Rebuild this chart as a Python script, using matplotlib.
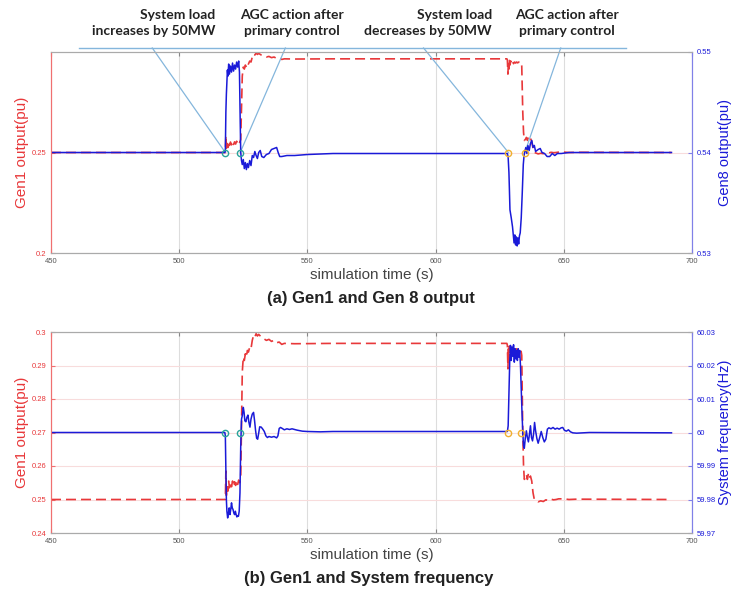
import matplotlib
matplotlib.use("Agg")
import matplotlib.pyplot as plt

plt.rcParams["font.family"] = ["Liberation Sans", "DejaVu Sans"]

# Gen1 active power output (pu)
t_gen1 = [450, 518.0, 518.2, 518.4, 518.7, 519.0, 519.3, 519.6, 520.0, 520.4, 520.8,
          521.2, 521.6, 522.0, 522.4, 522.8, 523.2, 523.6, 524.0, 524.3, 524.6,
          525.0, 525.4, 525.8, 526.2, 526.6, 527.0, 527.5, 528.0, 528.5, 529.0,
          529.5, 530.0, 530.5, 531.0, 532.0, 533.0, 534.0, 535.0, 536.0, 537.0,
          538.0, 539.0, 540.0, 541.0, 545.0, 560.0, 600.0, 627.8, 628.0, 628.2,
          628.4, 628.6, 628.8, 629.0, 629.3, 629.6, 630.0, 630.4, 630.8, 631.2,
          631.6, 632.0, 632.4, 632.8, 633.2, 633.6, 634.0, 634.3, 634.6, 635.0,
          635.4, 635.8, 636.2, 636.6, 637.0, 637.5, 638.0, 638.5, 639.0, 640.0,
          641.0, 642.0, 643.0, 644.0, 645.0, 646.0, 647.0, 648.0, 650.0, 652.0,
          655.0, 692.0]
gen1 = [0.2500, 0.2500, 0.2585, 0.2512, 0.2545, 0.2525, 0.2555, 0.2535, 0.2552, 0.2538, 0.2555,
        0.2540, 0.2553, 0.2542, 0.2556, 0.2545, 0.2558, 0.2550, 0.2565, 0.2720, 0.2880,
        0.2925, 0.2915, 0.2935, 0.2925, 0.2945, 0.2940, 0.2955, 0.2950, 0.2975, 0.2990,
        0.2985, 0.2995, 0.2988, 0.2993, 0.2985, 0.2980, 0.2975, 0.2978, 0.2972, 0.2975,
        0.2968, 0.2970, 0.2963, 0.2966, 0.2965, 0.2966, 0.2966, 0.2966, 0.2960, 0.2890,
        0.2950, 0.2915, 0.2958, 0.2935, 0.2955, 0.2940, 0.2952, 0.2942, 0.2950, 0.2945,
        0.2950, 0.2946, 0.2950, 0.2947, 0.2950, 0.2930, 0.2700, 0.2600, 0.2560, 0.2565,
        0.2575, 0.2560, 0.2578, 0.2565, 0.2570, 0.2555, 0.2520, 0.2500, 0.2498, 0.2493,
        0.2496, 0.2494, 0.2499, 0.2497, 0.2501, 0.2499, 0.2500, 0.2502, 0.2502, 0.2500,
        0.2501, 0.2500]

# Gen8 active power output (pu)
t_gen8 = [450, 517.8, 518.0, 518.2, 518.4, 518.6, 518.8, 519.0, 519.3, 519.6, 520.0,
          520.4, 520.8, 521.2, 521.6, 522.0, 522.4, 522.8, 523.2, 523.5, 523.8,
          524.0, 524.3, 524.6, 525.0, 525.4, 525.8, 526.2, 526.6, 527.0, 527.5,
          528.0, 528.5, 529.0, 529.5, 530.0, 530.5, 531.0, 531.6, 532.2, 533.0,
          534.0, 535.0, 536.0, 537.0, 538.0, 538.6, 539.2, 540.0, 542.0, 545.0,
          550.0, 560.0, 600.0, 628.0, 628.3, 628.6, 628.8, 629.0, 629.5, 630.0,
          630.3, 630.6, 630.9, 631.2, 631.5, 631.8, 632.1, 632.4, 632.7, 633.0,
          633.4, 633.8, 634.2, 634.5, 634.8, 635.2, 635.6, 636.0, 636.5, 637.0,
          637.5, 638.0, 638.5, 639.0, 640.0, 640.8, 641.5, 642.5, 643.5, 644.5,
          645.5, 646.5, 647.5, 649.0, 652.0, 692.0]
gen8 = [0.5400, 0.5400, 0.5402, 0.5440, 0.5458, 0.5470, 0.5482, 0.5476, 0.5488, 0.5478, 0.5486,
        0.5480, 0.5489, 0.5481, 0.5487, 0.5483, 0.5490, 0.5485, 0.5491, 0.5480, 0.5430,
        0.5400, 0.5392, 0.5388, 0.5393, 0.5384, 0.5390, 0.5383, 0.5389, 0.5385, 0.5392,
        0.5387, 0.5397, 0.5395, 0.5401, 0.5397, 0.5394, 0.5400, 0.5402, 0.5396, 0.5395,
        0.5398, 0.5399, 0.5403, 0.5404, 0.5405, 0.5400, 0.5396, 0.5396, 0.5397, 0.5397,
        0.5398, 0.5399, 0.5399, 0.5399, 0.5395, 0.5380, 0.5362, 0.5343, 0.5335, 0.5326,
        0.5318, 0.5310, 0.5318, 0.5308, 0.5316, 0.5307, 0.5315, 0.5309, 0.5317, 0.5320,
        0.5335, 0.5360, 0.5388, 0.5397, 0.5401, 0.5405, 0.5399, 0.5407, 0.5402, 0.5409,
        0.5412, 0.5405, 0.5407, 0.5401, 0.5403, 0.5404, 0.5400, 0.5399, 0.5396, 0.5396,
        0.5399, 0.5397, 0.5399, 0.5399, 0.5400, 0.5400]

# System frequency (Hz)
t_freq = [450, 517.8, 518.0, 518.2, 518.4, 518.6, 518.9, 519.2, 519.5, 519.8, 520.1,
          520.4, 520.7, 521.0, 521.3, 521.6, 521.9, 522.2, 522.5, 522.8, 523.1,
          523.4, 523.7, 524.0, 524.3, 524.6, 525.0, 525.3, 525.6, 526.0, 526.4,
          526.8, 527.2, 527.6, 528.0, 528.5, 529.0, 529.4, 529.8, 530.2, 530.6,
          531.0, 531.4, 532.0, 532.6, 533.2, 533.8, 534.4, 535.0, 536.0, 537.0,
          538.0, 538.5, 539.0, 539.5, 540.0, 541.0, 542.0, 543.0, 544.0, 546.0,
          548.0, 550.0, 555.0, 560.0, 600.0, 628.0, 628.3, 628.6, 628.9, 629.2,
          629.5, 629.8, 630.1, 630.4, 630.7, 631.0, 631.3, 631.6, 631.9, 632.2,
          632.5, 632.8, 633.1, 633.4, 633.7, 634.0, 634.3, 634.6, 635.0, 635.4,
          635.8, 636.2, 636.6, 637.0, 637.4, 637.8, 638.2, 638.6, 639.0, 639.5,
          640.0, 640.6, 641.2, 641.8, 642.4, 643.0, 643.6, 644.2, 645.0, 645.8,
          646.6, 647.4, 648.2, 649.0, 649.6, 650.2, 651.0, 651.8, 652.6, 653.5,
          655.0, 660.0, 692.0]
freq = [60.0000, 60.0000, 59.9990, 59.9890, 59.9800, 59.9765, 59.9745, 59.9760, 59.9775, 59.9755, 59.9770,
        59.9790, 59.9775, 59.9770, 59.9760, 59.9755, 59.9765, 59.9755, 59.9748, 59.9752, 59.9750,
        59.9765, 59.9820, 59.9960, 60.0040, 60.0050, 60.0075, 60.0060, 60.0035, 60.0032, 60.0045,
        60.0052, 60.0030, 60.0016, 60.0040, 60.0055, 60.0060, 60.0035, 60.0005, 59.9983, 59.9980,
        59.9998, 60.0017, 60.0016, 60.0010, 60.0003, 59.9990, 59.9985, 59.9988, 59.9986, 59.9988,
        59.9984, 59.9990, 60.0012, 60.0015, 60.0013, 60.0008, 60.0011, 60.0009, 60.0011, 60.0007,
        60.0004, 60.0003, 60.0002, 60.0003, 60.0003, 60.0003, 60.0020, 60.0115, 60.0210, 60.0260,
        60.0215, 60.0255, 60.0228, 60.0262, 60.0210, 60.0250, 60.0220, 60.0245, 60.0215, 60.0250,
        60.0225, 60.0245, 60.0200, 60.0130, 60.0060, 60.0000, 59.9960, 59.9953, 59.9985, 60.0005,
        59.9985, 59.9972, 59.9995, 60.0020, 59.9985, 59.9975, 59.9995, 60.0030, 60.0005, 59.9982,
        59.9968, 59.9985, 60.0003, 59.9985, 59.9972, 59.9980, 60.0010, 60.0014, 60.0011, 60.0015,
        60.0010, 60.0013, 60.0010, 60.0014, 60.0015, 60.0007, 60.0004, 60.0008, 60.0002, 59.9999,
        59.9998, 60.0000, 59.9999]

# event markers: load step and AGC action
events_a = [518.0, 523.8, 628.4, 634.8]
events_b = [518.0, 523.8, 628.4, 633.5]
event_colors = ["#2aa39a", "#2aa39a", "#f0b030", "#f0b030"]

# callout labels above panel (a): text, anchor x (pixels), alignment
callouts = ["System load\nincreases by 50MW", "AGC action after\nprimary control",
            "System load\ndecreases by 50MW", "AGC action after\nprimary control"]
callout_x = [215, 292, 492, 567]
callout_ha = ["right", "center", "right", "center"]
callout_tips = [489.5, 541.4, 595.3, 648.8]

RED = "#e8383a"
BLUE = "#1a1ad8"
LINE_BLUE = "#84b6dc"
GRAY = "#555555"
W, H = 733, 598


def style_axes(ax, axr, left_color, right_color):
    ax.set_xlim(450, 700)
    ax.set_xticks([450, 500, 550, 600, 650, 700])
    ax.grid(True, axis="x", color="#dddddd", lw=0.8)
    ax.grid(True, axis="y", color="#f8dcdc", lw=0.8)
    ax.tick_params(axis="x", direction="in", length=3, labelsize=5.5, colors="#888888", labelcolor=GRAY)
    ax.tick_params(axis="y", direction="in", length=3, labelsize=5.5, colors=left_color, labelcolor=RED)
    axr.tick_params(axis="y", direction="in", length=3, labelsize=5.5, colors=right_color, labelcolor=BLUE)
    ax.xaxis.set_ticks_position("both")
    for a in (ax, axr):
        a.spines["top"].set_color("#aaaaaa")
        a.spines["bottom"].set_color("#aaaaaa")
        a.spines["left"].set_color(left_color)
        a.spines["right"].set_color(right_color)
    ax.set_xlabel("simulation time (s)", fontsize=11, color="#444444", labelpad=2)
    ax.set_ylabel("Gen1 output(pu)", fontsize=11, color=RED)
    ax.yaxis.set_label_coords(-0.034, 0.5)


fig = plt.figure(figsize=(W / 100, H / 100), dpi=100)

# (a) Gen1 and Gen8 output
ax1 = fig.add_axes([51 / W, 1 - 253 / H, 641 / W, 201 / H])
ax1r = ax1.twinx()
ax1.plot(t_gen1, gen1, "--", color=RED, lw=1.2, dashes=(6, 3))
ax1r.plot(t_gen8, gen8, "-", color=BLUE, lw=1.1)
ax1.set_ylim(0.2, 0.3)
ax1.set_yticks([0.2, 0.25])
ax1.set_yticklabels(["0.2", "0.25"])
ax1r.set_ylim(0.53, 0.55)
ax1r.set_yticks([0.53, 0.54, 0.55])
ax1r.set_yticklabels(["0.53", "0.54", "0.55"])
style_axes(ax1, ax1r, "#f07070", "#8080e8")
ax1r.set_ylabel("Gen8 output(pu)", fontsize=10.5, color=BLUE)
ax1r.yaxis.set_label_coords(1.04, 0.5)
for t, c in zip(events_a, event_colors):
    ax1r.plot(t, 0.54, "o", ms=4.5, mfc="none", mec=c, mew=1.0, zorder=5)

# callout lines drawn above the axes box
top_y = 0.302
ax1.plot([460.9, 674.2], [top_y, top_y], color=LINE_BLUE, lw=1.0, clip_on=False)
for t, tip in zip(events_a, callout_tips):
    ax1.plot([t, tip], [0.25, top_y], color=LINE_BLUE, lw=0.9, clip_on=False)
for txt, x, ha in zip(callouts, callout_x, callout_ha):
    fig.text(x / W, 1 - 23 / H, txt, ha=ha, va="center", fontsize=10,
             family="Lato", fontweight="bold", color="#222222", linespacing=1.35)

fig.text(371 / W, 1 - 298 / H, "(a) Gen1 and Gen 8 output", ha="center", va="center",
         fontsize=12, fontweight="bold", color="#222222")

# (b) Gen1 and system frequency
ax2 = fig.add_axes([51 / W, 1 - 533 / H, 641 / W, 201 / H])
ax2r = ax2.twinx()
ax2.plot(t_gen1, gen1, "--", color=RED, lw=1.2, dashes=(6, 3))
ax2r.plot(t_freq, freq, "-", color=BLUE, lw=1.1)
ax2.set_ylim(0.24, 0.30)
ax2.set_yticks([0.24, 0.25, 0.26, 0.27, 0.28, 0.29, 0.30])
ax2.set_yticklabels(["0.24", "0.25", "0.26", "0.27", "0.28", "0.29", "0.3"])
ax2r.set_ylim(59.97, 60.03)
ax2r.set_yticks([59.97, 59.98, 59.99, 60.0, 60.01, 60.02, 60.03])
ax2r.set_yticklabels(["59.97", "59.98", "59.99", "60", "60.01", "60.02", "60.03"])
style_axes(ax2, ax2r, "#f07070", "#8080e8")
ax2r.set_ylabel("System frequency(Hz)", fontsize=10.5, color=BLUE)
ax2r.yaxis.set_label_coords(1.04, 0.5)
for t, c in zip(events_b, event_colors):
    ax2r.plot(t, 60.0, "o", ms=4.5, mfc="none", mec=c, mew=1.0, zorder=5)

fig.text(369 / W, 1 - 578 / H, "(b) Gen1 and System frequency", ha="center", va="center",
         fontsize=12, fontweight="bold", color="#222222")

fig.savefig("out.png", dpi=100, facecolor="white")
